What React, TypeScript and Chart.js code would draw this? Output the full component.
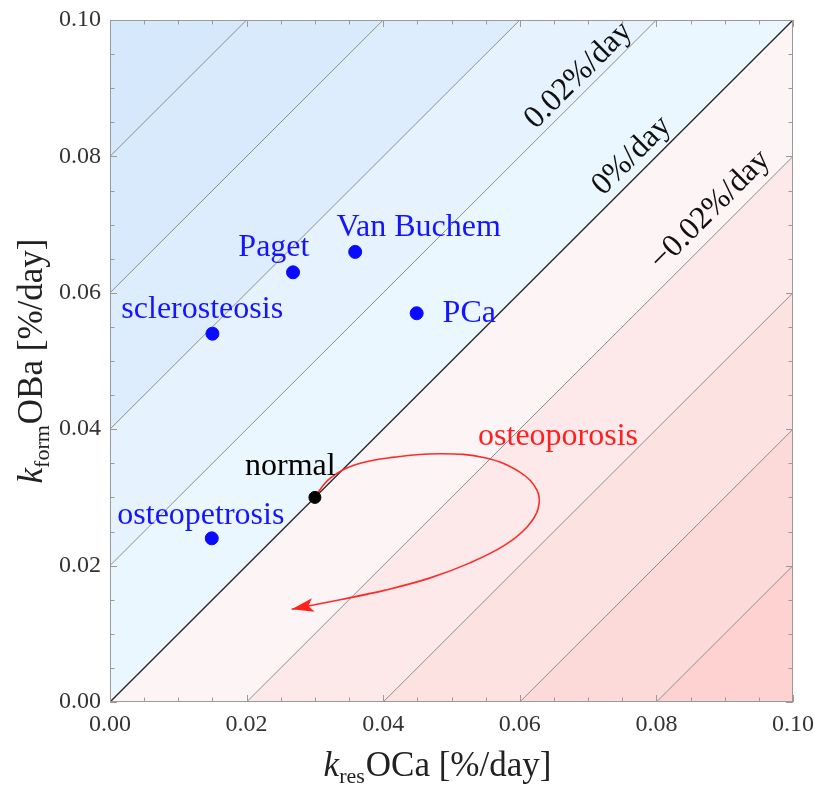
import React, { useEffect, useRef } from "react";
import { Chart, registerables } from "chart.js";

Chart.register(...registerables);

// ---- data ----
const xMin = 0;
const xMax = 0.1;
const yMin = 0;
const yMax = 0.1;
const majorStep = 0.02;
const minorStep = 0.005;

// contour levels of (kform - kres) in %/day
const contourLevels = [-0.08, -0.06, -0.04, -0.02, 0, 0.02, 0.04, 0.06, 0.08];
// band fill colours, from the lowest band (below -0.08) to the highest (above 0.08)
const bandColors = [
  "#ffd2d2",
  "#fddada",
  "#fde2e2",
  "#fde9e9",
  "#fdf5f5",
  "#ebf7ff",
  "#e6f3fe",
  "#ddedfd",
  "#d9eafc",
  "#d5e8fc",
];

const diseaseNames = ["sclerosteosis", "Paget", "Van Buchem", "PCa", "osteopetrosis"];
const diseaseX = [0.015, 0.0268, 0.0359, 0.0449, 0.0149];
const diseaseY = [0.054, 0.063, 0.066, 0.057, 0.024];
// label anchors (text centres) in data units
const diseaseLabelX = [0.0135, 0.024, 0.0452, 0.0526, 0.0133];
const diseaseLabelY = [0.0575, 0.0666, 0.0695, 0.057, 0.0274];

const normalName = "normal";
const normalX = [0.03];
const normalY = [0.03];
const normalLabelX = 0.0264;
const normalLabelY = 0.0345;

// osteoporosis trajectory
const pathX = [0.03, 0.0322, 0.0359, 0.0417, 0.0483, 0.0549, 0.06, 0.0625, 0.0627, 0.0611, 0.0578, 0.0527, 0.0469, 0.0403, 0.0337, 0.0266];
const pathY = [0.0301, 0.0328, 0.0348, 0.0359, 0.0364, 0.0358, 0.0337, 0.0311, 0.0284, 0.0257, 0.023, 0.0204, 0.0182, 0.0164, 0.015, 0.0136];
const osteoporosisName = "osteoporosis";
const osteoporosisLabelX = 0.0656;
const osteoporosisLabelY = 0.0389;

const contourLabelTexts = ["0.02%/day", "0%/day", "\u22120.02%/day"];
const contourLabelX = [0.0686, 0.0764, 0.0879];
const contourLabelY = [0.0919, 0.0801, 0.0721];

const xTitleSub = "res";
const yTitleSub = "form";
const xTitleRest = "OCa [%/day]";
const yTitleRest = "OBa [%/day]";

const SERIF = "'Liberation Serif', 'DejaVu Serif', serif";

function lineEnds(c: number) {
  const x0 = Math.max(xMin, yMin - c);
  const x1 = Math.min(xMax, yMax - c);
  return [
    { x: x0, y: x0 + c },
    { x: x1, y: x1 + c },
  ];
}

const bandsPlugin = {
  id: "bands",
  beforeDatasetsDraw(chart: any) {
    const { ctx, chartArea } = chart;
    const xs = chart.scales.x;
    const ys = chart.scales.y;
    const bounds = [-1, ...contourLevels, 1];
    ctx.save();
    ctx.beginPath();
    ctx.rect(chartArea.left, chartArea.top, chartArea.right - chartArea.left, chartArea.bottom - chartArea.top);
    ctx.clip();
    for (let i = 0; i < bounds.length - 1; i++) {
      const lo = bounds[i];
      const hi = bounds[i + 1];
      const a = -0.5;
      const b = 0.6;
      ctx.beginPath();
      ctx.moveTo(xs.getPixelForValue(a), ys.getPixelForValue(a + lo));
      ctx.lineTo(xs.getPixelForValue(b), ys.getPixelForValue(b + lo));
      ctx.lineTo(xs.getPixelForValue(b), ys.getPixelForValue(b + hi));
      ctx.lineTo(xs.getPixelForValue(a), ys.getPixelForValue(a + hi));
      ctx.closePath();
      ctx.fillStyle = bandColors[i];
      ctx.fill();
    }
    ctx.restore();
  },
};

const decorPlugin = {
  id: "decor",
  afterDatasetsDraw(chart: any) {
    const { ctx } = chart;
    const xs = chart.scales.x;
    const ys = chart.scales.y;
    // arrow head at the end of the osteoporosis path
    const n = pathX.length;
    const tx = xs.getPixelForValue(pathX[n - 1]);
    const ty = ys.getPixelForValue(pathY[n - 1]);
    const px = xs.getPixelForValue(pathX[n - 2]);
    const py = ys.getPixelForValue(pathY[n - 2]);
    const ang = Math.atan2(ty - py, tx - px);
    const L = 22;
    const W = 7;
    ctx.save();
    ctx.translate(tx, ty);
    ctx.rotate(ang);
    ctx.beginPath();
    ctx.moveTo(0, 0);
    ctx.lineTo(-L, -W);
    ctx.lineTo(-L + 5, 0);
    ctx.lineTo(-L, W);
    ctx.closePath();
    ctx.fillStyle = "#ff2020";
    ctx.fill();
    ctx.restore();

    ctx.save();
    ctx.textAlign = "center";
    ctx.textBaseline = "middle";
    ctx.font = `32px ${SERIF}`;
    ctx.fillStyle = "#1414ff";
    diseaseNames.forEach((name, i) => {
      ctx.fillText(name, xs.getPixelForValue(diseaseLabelX[i]), ys.getPixelForValue(diseaseLabelY[i]));
    });
    ctx.fillStyle = "#000";
    ctx.fillText(normalName, xs.getPixelForValue(normalLabelX), ys.getPixelForValue(normalLabelY));
    ctx.fillStyle = "#ff1f1f";
    ctx.fillText(osteoporosisName, xs.getPixelForValue(osteoporosisLabelX), ys.getPixelForValue(osteoporosisLabelY));

    const rot = Math.atan2(
      ys.getPixelForValue(yMax) - ys.getPixelForValue(yMin),
      xs.getPixelForValue(xMax) - xs.getPixelForValue(xMin)
    );
    ctx.fillStyle = "#111";
    ctx.font = `32px ${SERIF}`;
    contourLabelTexts.forEach((t, i) => {
      ctx.save();
      ctx.translate(xs.getPixelForValue(contourLabelX[i]), ys.getPixelForValue(contourLabelY[i]));
      ctx.rotate(rot);
      ctx.fillText(t, 0, 0);
      ctx.restore();
    });
    ctx.restore();
  },
  afterDraw(chart: any) {
    const { ctx, chartArea } = chart;
    const xs = chart.scales.x;
    const ys = chart.scales.y;
    const { left, right, top, bottom } = chartArea;
    ctx.save();
    // frame
    ctx.strokeStyle = "#9a9a9a";
    ctx.lineWidth = 1;
    ctx.strokeRect(left + 0.5, top + 0.5, right - left - 1, bottom - top - 1);
    // ticks (inward)
    const nMinor = Math.round((xMax - xMin) / minorStep);
    ctx.beginPath();
    for (let i = 0; i <= nMinor; i++) {
      const v = xMin + i * minorStep;
      const isMajor = Math.abs(v / majorStep - Math.round(v / majorStep)) < 1e-6;
      const len = isMajor ? 7 : 4.5;
      const px = Math.round(xs.getPixelForValue(v)) + 0.5;
      ctx.moveTo(px, bottom);
      ctx.lineTo(px, bottom - len);
      ctx.moveTo(px, top);
      ctx.lineTo(px, top + len);
      const vy = yMin + i * minorStep;
      const py = Math.round(ys.getPixelForValue(vy)) + 0.5;
      ctx.moveTo(left, py);
      ctx.lineTo(left + len, py);
      ctx.moveTo(right, py);
      ctx.lineTo(right - len, py);
    }
    ctx.stroke();

    // axis titles
    ctx.fillStyle = "#222";
    ctx.textBaseline = "alphabetic";
    ctx.textAlign = "left";
    const bigFont = `35px ${SERIF}`;
    const kFont = `italic 35px ${SERIF}`;
    const subFont = `22px ${SERIF}`;
    const drawTitle = (sub: string, rest: string, cx: number, baseY: number) => {
      ctx.font = kFont;
      const wk = ctx.measureText("k").width;
      ctx.font = subFont;
      const ws = ctx.measureText(sub).width;
      ctx.font = bigFont;
      const wr = ctx.measureText(rest).width;
      let x = cx - (wk + ws + wr + 1) / 2;
      ctx.font = kFont;
      ctx.fillText("k", x, baseY);
      x += wk;
      ctx.font = subFont;
      ctx.fillText(sub, x, baseY + 7);
      x += ws + 1;
      ctx.font = bigFont;
      ctx.fillText(rest, x, baseY);
    };
    drawTitle(xTitleSub, xTitleRest, (left + right) / 2 - 14, bottom + 74);
    ctx.save();
    ctx.translate(left - 68, (top + bottom) / 2);
    ctx.rotate(-Math.PI / 2);
    drawTitle(yTitleSub, yTitleRest, 0, 0);
    ctx.restore();
    ctx.restore();
  },
};

const zeroPad = (s: any) => {
  s.paddingLeft = 0;
  s.paddingRight = 0;
  s.paddingTop = 0;
  s.paddingBottom = 0;
};

export default function App() {
  const ref = useRef<HTMLCanvasElement | null>(null);
  useEffect(() => {
    if (!ref.current) return;
    const contourSets = contourLevels.map((c) => ({
      type: "line" as const,
      data: lineEnds(c),
      borderColor: c === 0 ? "#2a2a2a" : "#8c8c8c",
      borderWidth: c === 0 ? 1.4 : 1,
      pointRadius: 0,
      fill: false,
      tension: 0,
      order: 5,
    }));
    const chart = new Chart(ref.current, {
      type: "scatter",
      data: {
        datasets: [
          ...contourSets,
          {
            type: "line",
            data: pathX.map((x, i) => ({ x, y: pathY[i] })),
            borderColor: "#ff2a2a",
            borderWidth: 1.6,
            pointRadius: 0,
            fill: false,
            tension: 0.4,
            order: 3,
          } as any,
          {
            type: "scatter",
            data: diseaseX.map((x, i) => ({ x, y: diseaseY[i] })),
            backgroundColor: "#0a0aff",
            borderColor: "#0a0aff",
            pointRadius: 6.5,
            order: 1,
          },
          {
            type: "scatter",
            data: normalX.map((x, i) => ({ x, y: normalY[i] })),
            backgroundColor: "#000",
            borderColor: "#000",
            pointRadius: 6,
            order: 0,
          },
        ],
      },
      options: {
        animation: false,
        responsive: true,
        maintainAspectRatio: false,
        layout: { padding: { left: 0, right: 21, top: 20, bottom: 0 } },
        plugins: { legend: { display: false }, tooltip: { enabled: false } },
        scales: {
          x: {
            type: "linear",
            min: xMin,
            max: xMax,
            grid: { display: false, drawTicks: false },
            border: { display: false },
            ticks: {
              stepSize: majorStep,
              padding: 8,
              color: "#333",
              font: { family: SERIF, size: 24 },
              callback: (v: any) => Number(v).toFixed(2),
              maxRotation: 0,
            },
            afterFit: (s: any) => {
              s.height = 87;
              zeroPad(s);
            },
          },
          y: {
            type: "linear",
            min: yMin,
            max: yMax,
            grid: { display: false, drawTicks: false },
            border: { display: false },
            ticks: {
              stepSize: majorStep,
              padding: 9,
              color: "#333",
              font: { family: SERIF, size: 24 },
              callback: (v: any) => Number(v).toFixed(2),
            },
            afterFit: (s: any) => {
              s.width = 110;
              zeroPad(s);
            },
          },
        },
      },
      plugins: [bandsPlugin, decorPlugin],
    });
    return () => chart.destroy();
  }, []);
  return (
    <div style={{ position: "fixed", left: 0, top: 0, width: 814, height: 789, background: "#fff" }}>
      <canvas ref={ref} />
    </div>
  );
}
